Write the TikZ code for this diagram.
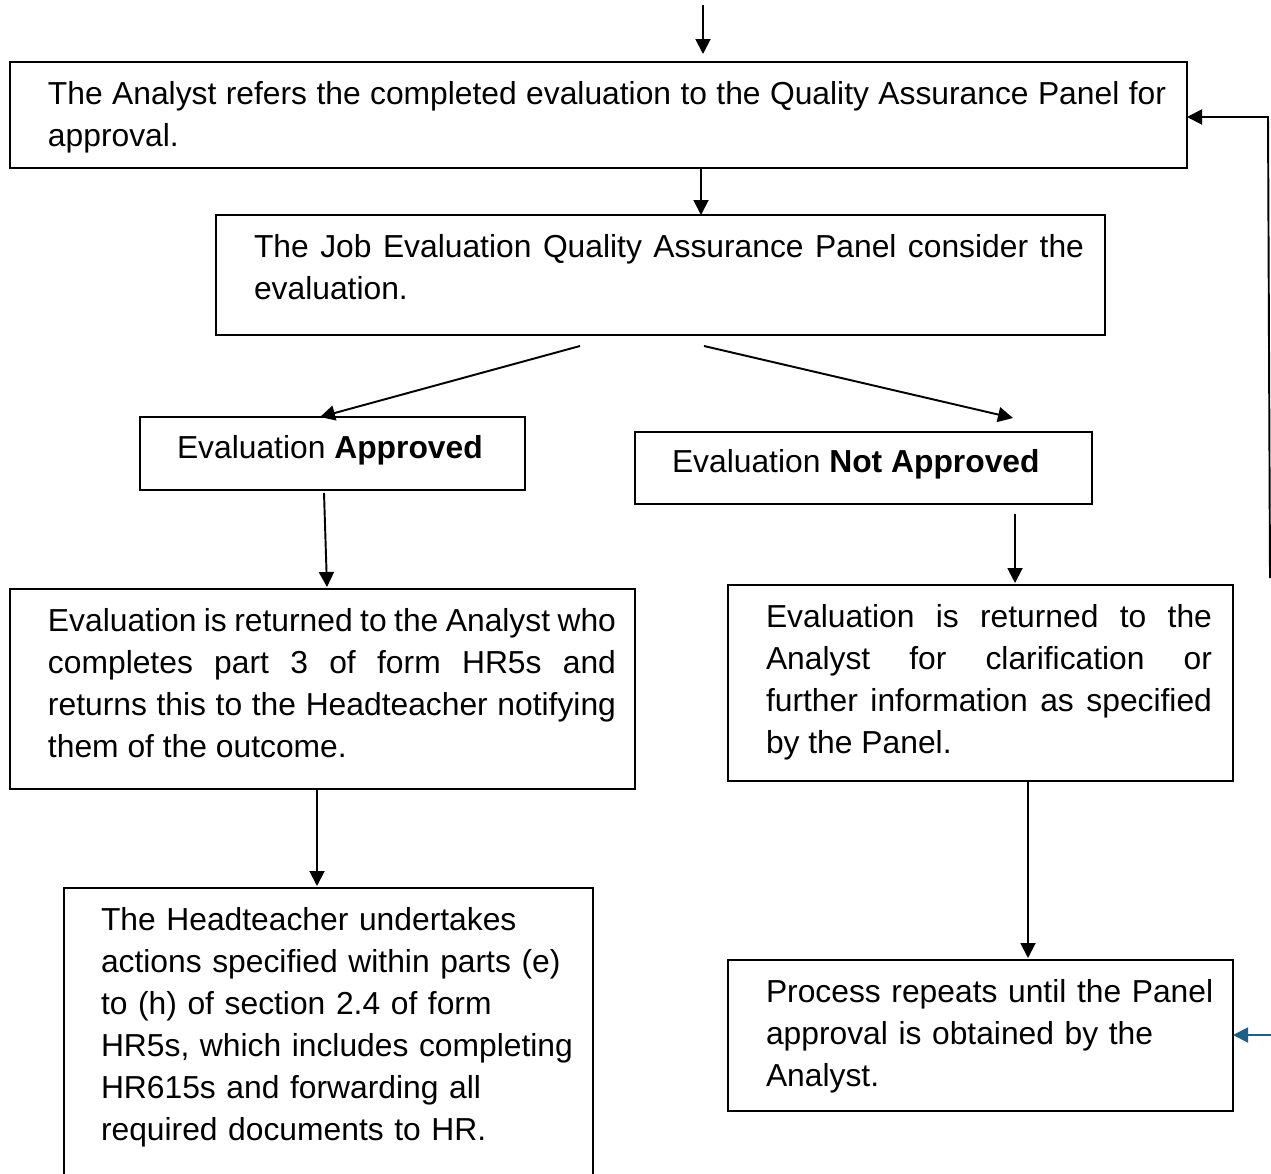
\documentclass[tikz,border=0pt]{standalone}
\usepackage{fontspec}
\setmainfont{Liberation Sans}
\usetikzlibrary{arrows.meta,calc}
\definecolor{linkblue}{RGB}{31,96,133}
\begin{document}
\begin{tikzpicture}[x=0.02cm,y=-0.02cm,
  line width=1.1pt,
  box/.style={draw=black,line width=1.1pt,inner sep=0pt,outer sep=0pt,rectangle},
  txt/.style={inner sep=0pt,outer sep=0pt,anchor=base west,align=justify,
    font=\fontsize{18.1pt}{24pt}\selectfont},
  rtxt/.style={inner sep=0pt,outer sep=0pt,anchor=base west,align=left,
    font=\fontsize{18.1pt}{24pt}\selectfont},
  arr/.style={-{Triangle[length=0.3cm,width=0.3cm]},line width=1.1pt}]
\useasboundingbox (0,0) rectangle (1271,1173);
\clip (0,0) rectangle (1271,1173);
\hbadness=10000 \hfuzz=20pt
% boxes
\node[box,minimum width={1177*0.02cm},minimum height={106*0.02cm}] (A) at (598.5,115) {};
\node[box,minimum width={889*0.02cm},minimum height={120*0.02cm}] (B) at (660.5,275) {};
\node[box,minimum width={385*0.02cm},minimum height={73*0.02cm}] (C) at (332.5,453.5) {};
\node[box,minimum width={457*0.02cm},minimum height={72*0.02cm}] (D) at (863.5,468) {};
\node[box,minimum width={625*0.02cm},minimum height={200*0.02cm}] (E) at (322.5,689) {};
\node[box,minimum width={505*0.02cm},minimum height={196*0.02cm}] (F) at (980.5,683) {};
\node[box,minimum width={529*0.02cm},minimum height={320*0.02cm}] (G) at (328.5,1048) {};
\node[box,minimum width={505*0.02cm},minimum height={151*0.02cm}] (H) at (980.5,1035.5) {};
% texts
\node[txt,text width={1118*0.02cm}] (At) at (48,104)
  {The Analyst refers the completed evaluation to the Quality Assurance Panel for\linebreak approval.};
\node[txt,text width={830*0.02cm}] (Bt) at (254,257)
  {The Job Evaluation Quality Assurance Panel consider the\linebreak evaluation.};
\node[rtxt] (Ct) at (177,458) {Evaluation \textbf{Approved}};
\node[rtxt] (Dt) at (672,472) {Evaluation \textbf{Not Approved}};
\node[txt,text width={568*0.02cm}] (Et) at (48,631)
  {Evaluation is returned to the Analyst who\linebreak completes part 3 of form HR5s and\linebreak returns this to the Headteacher notifying\linebreak them of the outcome.};
\node[txt,text width={446*0.02cm}] (Ft) at (766,627)
  {Evaluation is returned to the\linebreak Analyst for clarification or\linebreak further information as specified\linebreak by the Panel.};
\node[rtxt,text width={490*0.02cm}] (Gt) at (101,930)
  {The Headteacher undertakes\\ actions specified within parts (e)\\ to (h) of section 2.4 of form\\ HR5s, which includes completing\\ HR615s and forwarding all\\ required documents to HR.};
\node[rtxt,text width={470*0.02cm}] (Ht) at (766,1002)
  {Process repeats until the Panel\\ approval is obtained by the\\ Analyst.};
% connector end points
\coordinate (t0) at (703,5);
\coordinate (t1) at (703,54);
\coordinate (bl) at (580,346);
\coordinate (br) at (704,346);
\coordinate (dn) at (1013,418);
\coordinate (cs) at (324,493);
\coordinate (ds) at (1015,514);
\coordinate (r1) at (1268,117);
\coordinate (r2) at (1270,578);
\coordinate (b1) at (1271,1035);
% connectors
\draw[arr] (t0) -- (t1);
\draw[arr] ($(A.south west)+(691,0)$) -- ($(B.north west)+(485,0)$);
\draw[arr] (bl) -- ($(C.north west)+(180,0)$);
\draw[arr] (br) -- (dn);
\draw[arr] (cs) -- ($(E.north west)+(317,-2)$);
\draw[arr] (ds) -- ($(F.north west)+(287,-2)$);
\draw[arr] ($(E.south west)+(307,0)$) -- ($(G.north west)+(253,-2)$);
\draw[arr] ($(F.south west)+(300,0)$) -- ($(H.north west)+(300,-2)$);
\draw[arr] (r2) -- (r1) -- (r1 -| A.east);
\draw[arr,draw=linkblue] (b1) -- (b1 -| H.east);
\end{tikzpicture}
\end{document}
